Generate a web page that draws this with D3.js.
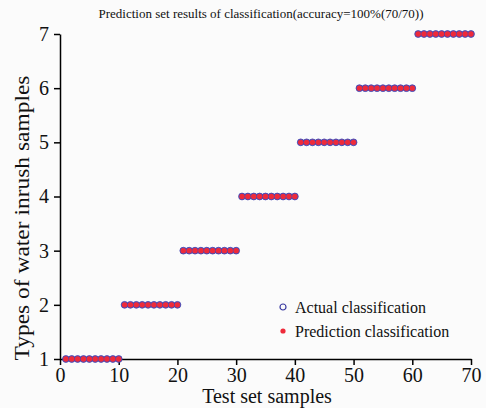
<!DOCTYPE html>
<html>
<head>
<meta charset="utf-8">
<script src="https://cdn.jsdelivr.net/npm/d3@7"></script>
<style>
  body { margin: 0; background: #fbfbfb; }
  svg { display: block; font-family: "Liberation Serif", "Times New Roman", serif; }
</style>
</head>
<body>
<svg id="chart" width="486" height="408"></svg>
<script>
// sample index 1..70, class of each group of 10
const classes = [1, 2, 3, 4, 5, 6, 7];
const groupSize = 10;
const actual = [];
const predicted = [];
classes.forEach((c, gi) => {
  for (let k = 1; k <= groupSize; k++) {
    actual.push({ x: gi * groupSize + k, y: c });
    predicted.push({ x: gi * groupSize + k, y: c });
  }
});
const xTicks = [0, 10, 20, 30, 40, 50, 60, 70];
const yTicks = [1, 2, 3, 4, 5, 6, 7];

const svg = d3.select("#chart");
const margin = { left: 60, right: 15, top: 34, bottom: 49 };
const width = +svg.attr("width");
const height = +svg.attr("height");

const x = d3.scaleLinear().domain([0, 70]).range([margin.left, width - margin.right]);
const y = d3.scaleLinear().domain([1, 7]).range([height - margin.bottom, margin.top]);

// axes
const xAxis = svg.append("g")
  .attr("transform", `translate(0,${y(1)})`)
  .call(d3.axisBottom(x).tickValues(xTicks).tickFormat(d3.format("d")).tickSize(6).tickSizeOuter(0));
xAxis.selectAll("text").attr("font-size", "20px").attr("dy", "0.72em").attr("fill", "#111");

const yAxis = svg.append("g")
  .attr("transform", `translate(${x(0)},0)`)
  .call(d3.axisLeft(y).tickValues(yTicks).tickFormat(d3.format("d")).tickSize(6).tickSizeOuter(0));
yAxis.selectAll("text").attr("font-size", "20px").attr("dx", "-0.1em").attr("fill", "#111");

svg.selectAll(".domain, .tick line").attr("stroke", "#000").attr("stroke-width", 1.5);
svg.selectAll(".tick text").attr("font-family", "Liberation Serif, serif");

// marks
svg.append("g").selectAll("circle")
  .data(actual)
  .enter()
  .append("circle")
  .attr("cx", d => x(d.x))
  .attr("cy", d => y(d.y))
  .attr("r", 3.4)
  .attr("fill", "#5a4fb0")
  .attr("stroke", "#4040b0")
  .attr("stroke-width", 0.8);

svg.append("g").selectAll("circle")
  .data(predicted)
  .enter()
  .append("circle")
  .attr("cx", d => x(d.x))
  .attr("cy", d => y(d.y))
  .attr("r", 2.7)
  .attr("fill", "#ee2a3a");

// title
svg.append("text")
  .attr("x", 261)
  .attr("y", 18)
  .attr("text-anchor", "middle")
  .attr("font-size", "13px")
  .attr("fill", "#111")
  .text("Prediction set results of classification(accuracy=100%(70/70))");

// axis titles
svg.append("text")
  .attr("x", 267)
  .attr("y", 403)
  .attr("text-anchor", "middle")
  .attr("font-size", "20px")
  .attr("fill", "#111")
  .text("Test set samples");

svg.append("text")
  .attr("transform", "translate(29,218) rotate(-90)")
  .attr("text-anchor", "middle")
  .attr("font-size", "21px")
  .attr("textLength", 285)
  .attr("lengthAdjust", "spacingAndGlyphs")
  .attr("fill", "#111")
  .text("Types of water inrush samples");

// legend
const legend = svg.append("g").attr("transform", "translate(283,307)");
legend.append("circle").attr("cx", 0).attr("cy", 0).attr("r", 3)
  .attr("fill", "none").attr("stroke", "#3a3aa0").attr("stroke-width", 1.2);
legend.append("text").attr("x", 12).attr("y", 5.5).attr("font-size", "16px").attr("fill", "#111")
  .text("Actual classification");
legend.append("circle").attr("cx", 0).attr("cy", 24).attr("r", 2.6).attr("fill", "#ee2a3a");
legend.append("text").attr("x", 12).attr("y", 29.5).attr("font-size", "16px").attr("fill", "#111")
  .text("Prediction classification");
</script>
</body>
</html>
